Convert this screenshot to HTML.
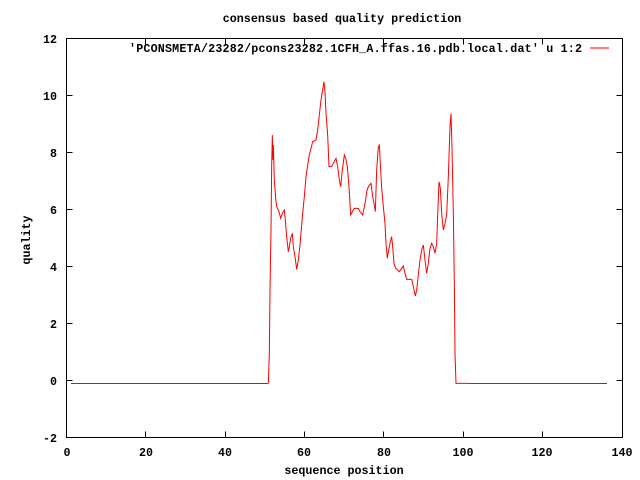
<!DOCTYPE html>
<html><head><style>body{margin:0;background:#fff}svg{display:block}text{font-family:"Liberation Mono",monospace;font-weight:bold;font-size:11.7px;fill:#000}</style></head>
<body>
<svg width="640" height="480" xmlns="http://www.w3.org/2000/svg">
<rect width="640" height="480" fill="#fff"/>
<text x="342" y="22" text-anchor="middle">consensus based quality prediction</text>
<g stroke="#000" stroke-width="1" fill="none" shape-rendering="crispEdges">
<rect x="66.5" y="38.5" width="556" height="399"/>
<path d="M66.5 38.5h6M622.5 38.5h-6M66.5 95.5h6M622.5 95.5h-6M66.5 152.5h6M622.5 152.5h-6M66.5 209.5h6M622.5 209.5h-6M66.5 266.5h6M622.5 266.5h-6M66.5 323.5h6M622.5 323.5h-6M66.5 380.5h6M622.5 380.5h-6M66.5 437.5h6M622.5 437.5h-6"/>
<path d="M66.5 437.5v-6M66.5 38.5v6M145.5 437.5v-6M145.5 38.5v6M225.5 437.5v-6M225.5 38.5v6M304.5 437.5v-6M304.5 38.5v6M383.5 437.5v-6M383.5 38.5v6M463.5 437.5v-6M463.5 38.5v6M542.5 437.5v-6M542.5 38.5v6M622.5 437.5v-6M622.5 38.5v6"/>
</g>
<g text-anchor="end">
<text x="57" y="43">12</text><text x="57" y="100">10</text><text x="57" y="157">8</text><text x="57" y="214">6</text><text x="57" y="271">4</text><text x="57" y="328">2</text><text x="57" y="385">0</text><text x="57" y="442">-2</text>
</g>
<g text-anchor="middle">
<text x="67" y="456">0</text><text x="146" y="456">20</text><text x="225" y="456">40</text><text x="304" y="456">60</text><text x="384" y="456">80</text><text x="463" y="456">100</text><text x="542" y="456">120</text><text x="622" y="456">140</text>
<text x="344" y="474">sequence position</text>
<text x="0" y="0" transform="translate(30,240) rotate(-90)">quality</text>
</g>
<text x="582" y="52" text-anchor="end" textLength="453">'PCONSMETA/23282/pcons23282.1CFH_A.ffas.16.pdb.local.dat' u 1:2</text>
<line x1="590" y1="48" x2="609" y2="48" stroke="#f00" stroke-width="1"/>
<polyline fill="none" stroke="#f00" stroke-width="1" points="71,383.5 268.3,383.5"/>
<g transform="translate(260,70) scale(0.33333)">
<polyline fill="none" stroke="#f00" stroke-width="1" vector-effect="non-scaling-stroke" points="25,940 28,850 30,660 33,480 35,290 37,195 39,270 40,225 43,330 47,385 50,410 57,425 62,445 67,430 73,420 75,440 80,500 85,545 88,530 92,505 97,490 100,530 105,560 110,598 115,570 120,525 127,440 133,380 138,320 143,285 148,255 153,235 158,215 168,210 173,180 178,135 183,90 188,60 192,35 195,65 198,130 203,195 207,290 215,290 220,280 228,265 233,290 238,330 242,350 247,300 253,255 257,265 262,290 267,350 272,435 277,425 283,415 295,415 300,425 308,435 313,410 317,390 320,365 325,350 333,340 338,380 342,400 346,425 350,300 355,230 358,225 362,300 365,355 370,410 375,460 378,520 382,565 386,540 392,510 395,500 398,530 402,580 407,595 413,600 418,605 425,595 430,588 435,610 440,628 455,628 460,650 463,665 466,678 470,660 475,615 480,570 485,540 490,525 495,570 500,610 505,580 510,535 515,520 520,530 525,550 530,520 532,465 537,335 541,355 545,430 550,480 555,460 560,435 565,320 570,170 573,130 576,235 580,430 583,640 585,850 588,940 630,940"/>
</g>
<polyline fill="none" stroke="#f00" stroke-width="1" points="470,383.5 607,383.5"/>
</svg>
</body></html>
